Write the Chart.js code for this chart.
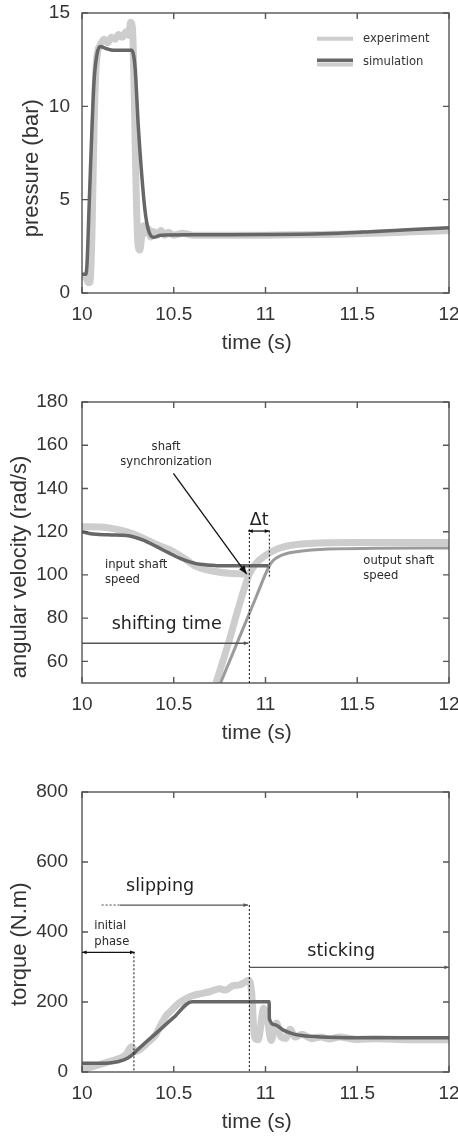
<!DOCTYPE html>
<html>
<head>
<meta charset="utf-8">
<title>gear shift: pressure, speed, torque</title>
<script src="https://cdn.jsdelivr.net/npm/chart.js@4.4.1/dist/chart.umd.min.js"></script>
<style>
  body{margin:0;background:#fff;}
  .box{position:absolute;left:0;width:458px;}
</style>
</head>
<body>
<div class="box" style="top:0;height:370px"><canvas id="pressureChart" width="458" height="370"></canvas></div>
<div class="box" style="top:370px;height:390px"><canvas id="speedChart" width="458" height="390"></canvas></div>
<div class="box" style="top:760px;height:377px"><canvas id="torqueChart" width="458" height="377"></canvas></div>
<script>
// --- pressure (bar) vs time (s)
const presSimT = [10.00,10.02,10.027,10.04,10.055,10.066,10.08,10.098,10.13,10.17,10.27,10.289,10.307,10.325,10.343,10.361,10.39,10.43,10.6,10.8,11.0,11.2,11.4,11.6,11.8,12.0];
const presSimV = [1.0,1.0,1.5,5.0,9.0,11.4,12.7,13.2,13.1,13.0,13.0,12.1,8.9,6.4,4.45,3.4,2.98,3.1,3.12,3.12,3.13,3.15,3.2,3.3,3.4,3.5];
const presExpT = [10.00,10.02,10.035,10.045,10.055,10.065,10.075,10.085,10.10,10.12,10.14,10.16,10.18,10.20,10.22,10.24,10.255,10.265,10.275,10.285,10.295,10.305,10.315,10.325,10.335,10.345,10.36,10.375,10.39,10.41,10.43,10.45,10.47,10.50,10.55,10.6,10.8,11.0,11.2,11.4,11.6,11.8,12.0];
const presExpV = [0.9,0.85,0.55,0.6,3.5,8.5,11.8,12.9,13.3,13.6,13.4,13.7,13.6,13.85,13.7,14.0,13.8,14.5,14.2,10.5,5.5,2.6,2.3,3.0,3.6,3.2,3.45,3.0,3.3,3.1,3.35,3.1,3.25,3.1,3.2,3.1,3.1,3.1,3.12,3.15,3.2,3.28,3.35];

// --- angular velocity (rad/s) vs time (s)
const inExpT  = [10.0,10.1,10.19,10.25,10.316,10.4,10.498,10.56,10.625,10.68,10.734,10.8,10.897,10.92];
const inExpV  = [122.3,122.2,121.1,119.8,117.7,114.3,110.8,107.5,103.8,102.4,101.5,100.8,100.4,100.2];
const inSimT  = [10.0,10.04,10.08,10.16,10.243,10.33,10.407,10.47,10.534,10.6,10.643,10.7,10.734,10.85,11.016];
const inSimV  = [120.0,119.2,118.8,118.5,118.2,116.2,113.1,110.3,107.7,105.7,104.9,104.5,104.3,104.3,104.3];
const outExpT = [10.73,10.8,10.85,10.91,10.95,11.0,11.05,11.1,11.2,11.3,11.5,11.75,12.0];
const outExpV = [50,69,84,100,105.5,109,111.5,113,114.3,114.8,115,115,115];
const outSimT = [10.755,10.85,10.95,11.015,11.04,11.08,11.15,11.3,11.6,12.0];
const outSimV = [50,69.5,90,103.2,106.5,108.8,110.5,111.8,112.3,112.5];

// --- torque (N.m) vs time (s)
const tqSimT = [10.0,10.1,10.15,10.2,10.25,10.28,10.3,10.4,10.5,10.6,11.02,11.021,11.05,11.1,11.15,11.2,11.3,11.5,12.0];
const tqSimV = [25,25,26,30,40,52,62,109,156,201,201,152,135,119,109,104,100,98,98];
const tqExpT = [10.0,10.05,10.1,10.15,10.2,10.24,10.27,10.29,10.32,10.36,10.4,10.43,10.46,10.48,10.5,10.53,10.56,10.6,10.65,10.7,10.75,10.78,10.82,10.86,10.88,10.91,10.925,10.94,10.96,10.99,11.01,11.03,11.06,11.085,11.11,11.135,11.16,11.2,11.25,11.3,11.35,11.4,11.5,11.6,11.8,12.0];
const tqExpV = [8,14,22,30,38,50,72,58,66,85,105,135,162,172,183,198,208,218,224,230,238,234,246,249,254,262,225,100,92,182,150,90,140,100,96,122,100,108,95,100,94,100,93,95,92,92];

const timeTicks = [10, 10.5, 11, 11.5, 12];

const SANS = "'Liberation Sans', Arial, sans-serif";
const NOTE = "'DejaVu Sans', sans-serif";
const INK = '#333';
const FRAME = '#555';
const EXP = '#cdcdcd', SIM = '#676767', SIM2 = '#9b9b9b';

const pts = (xs, ys) => xs.map((x, i) => ({x, y: ys[i]}));

function line(label, xs, ys, color, width, order){
  return {label, data: pts(xs, ys), borderColor: color, borderWidth: width, order,
    pointRadius: 0, cubicInterpolationMode: 'monotone', fill: false, clip: 0,
    borderJoinStyle: 'round', borderCapStyle: 'butt'};
}

// box round the plot, ticks pointing inwards (gnuplot style)
const frame = {
  id: 'frame',
  afterDatasetsDraw(chart){
    const {ctx, chartArea: a, scales: {x, y}} = chart;
    ctx.save();
    ctx.strokeStyle = FRAME; ctx.lineWidth = 1.4;
    ctx.beginPath();
    x.ticks.forEach(t => {
      const px = x.getPixelForValue(t.value);
      ctx.moveTo(px, a.bottom); ctx.lineTo(px, a.bottom - 6);
      ctx.moveTo(px, a.top); ctx.lineTo(px, a.top + 6);
    });
    y.ticks.forEach(t => {
      const py = y.getPixelForValue(t.value);
      ctx.moveTo(a.left, py); ctx.lineTo(a.left + 6, py);
      ctx.moveTo(a.right, py); ctx.lineTo(a.right - 6, py);
    });
    ctx.stroke();
    ctx.strokeRect(a.left, a.top, a.right - a.left, a.bottom - a.top);
    ctx.restore();
  }
};

function head(ctx, x1, y1, x2, y2, size){
  const ang = Math.atan2(y2 - y1, x2 - x1);
  ctx.beginPath();
  ctx.moveTo(x2, y2);
  ctx.lineTo(x2 - size * Math.cos(ang - 0.38), y2 - size * Math.sin(ang - 0.38));
  ctx.lineTo(x2 - size * Math.cos(ang + 0.38), y2 - size * Math.sin(ang + 0.38));
  ctx.closePath(); ctx.fill();
}

// arrows, dashed markers and labels, placed in data units
function makeNotes(cfg){
  return {
    id: 'notes',
    afterDraw(chart){
      const {ctx, scales: {x, y}} = chart;
      const P = p => [x.getPixelForValue(p[0]), y.getPixelForValue(p[1])];
      ctx.save();
      (cfg.lines || []).forEach(l => {
        const [x1, y1] = P(l.from), [x2, y2] = P(l.to);
        ctx.strokeStyle = l.color; ctx.fillStyle = l.color; ctx.lineWidth = l.width;
        ctx.setLineDash(l.dash || []);
        ctx.beginPath(); ctx.moveTo(x1, y1); ctx.lineTo(x2, y2); ctx.stroke();
        ctx.setLineDash([]);
        if (l.head === 'end' || l.head === 'both') head(ctx, x1, y1, x2, y2, l.size);
        if (l.head === 'both') head(ctx, x2, y2, x1, y1, l.size);
      });
      (cfg.texts || []).forEach(t => {
        const [px, py] = P(t.at);
        ctx.font = t.size + 'px ' + NOTE;
        ctx.fillStyle = t.color || '#2a2a2a';
        ctx.textAlign = t.align || 'left'; ctx.textBaseline = 'middle';
        ctx.fillText(t.text, px, py);
      });
      ctx.restore();
    }
  };
}

// legend inside the top right corner of the pressure plot
const legendBox = {
  id: 'legendBox',
  afterDraw(chart){
    const {ctx, chartArea: a} = chart;
    const ds = chart.data.datasets;
    const x0 = a.right - 132, x1 = a.right - 96, tx = a.right - 86;
    ctx.save();
    const seg = (yy, c, w) => { ctx.strokeStyle = c; ctx.lineWidth = w; ctx.beginPath(); ctx.moveTo(x0, yy); ctx.lineTo(x1, yy); ctx.stroke(); };
    seg(a.top + 25.7, EXP, 4);
    seg(a.top + 51.5, EXP, 4);
    seg(a.top + 47.2, SIM, 3.4);
    ctx.font = '11.6px ' + NOTE; ctx.fillStyle = INK; ctx.textBaseline = 'middle'; ctx.textAlign = 'left';
    ctx.fillText(ds[1].label, tx, a.top + 25.5);
    ctx.fillText(ds[0].label, tx, a.top + 48.5);
    ctx.restore();
  }
};

function options(o){
  return {
    responsive: false, animation: false,
    layout: {padding: {left: 0, right: 9, top: o.top, bottom: 0}},
    plugins: {legend: {display: false}, tooltip: {enabled: false}},
    scales: {
      x: {
        type: 'linear', min: 10, max: 12,
        grid: {display: false, drawTicks: false}, border: {display: false},
        afterBuildTicks: s => { s.ticks = timeTicks.map(v => ({value: v})); },
        ticks: {padding: 10, color: INK, font: {family: SANS, size: 19}, maxRotation: 0, autoSkip: false, callback: v => String(v)},
        title: {display: true, text: 'time (s)   ', color: INK, font: {family: SANS, size: 21}, padding: {top: 0, bottom: o.xTitlePad}},
        afterFit: s => { s.height = o.xH; s.paddingLeft = 0; s.paddingRight = 0; }
      },
      y: {
        min: o.yMin, max: o.yMax,
        grid: {display: false, drawTicks: false}, border: {display: false},
        afterBuildTicks: s => { s.ticks = o.yTicks.map(v => ({value: v})); },
        ticks: {padding: o.yTickPad, color: INK, font: {family: SANS, size: 19}},
        title: {display: true, text: o.yTitle, color: INK, font: {family: SANS, size: 22}, padding: {top: o.yTitlePad, bottom: 0}},
        afterFit: s => { s.width = 82; s.paddingTop = 0; s.paddingBottom = 0; }
      }
    }
  };
}

new Chart(document.getElementById('pressureChart'), {
  type: 'line',
  data: {datasets: [
    line('simulation', presSimT, presSimV, SIM, 3.5, 0),
    line('experiment', presExpT, presExpV, EXP, 7, 1)
  ]},
  options: options({top: 13, xH: 77, xTitlePad: 14, yMin: 0, yMax: 15, yTicks: [0, 5, 10, 15], yTickPad: 12,
    yTitle: 'pressure (bar)     ', yTitlePad: 19}),
  plugins: [frame, legendBox]
});

const speedNotes = {
  lines: [
    {from: [10.498, 147.0], to: [10.8975, 100.4], color: '#111', width: 1.3, head: 'end', size: 9},
    {from: [10.912, 50], to: [10.912, 121.1], color: '#111', width: 1, dash: [2, 2]},
    {from: [11.021, 99.2], to: [11.021, 121.1], color: '#111', width: 1, dash: [2, 2]},
    {from: [10.906, 120.3], to: [11.021, 120.3], color: '#111', width: 1.3, head: 'both', size: 5},
    {from: [10, 68.4], to: [10.907, 68.4], color: '#555', width: 1.3, head: 'end', size: 5}
  ],
  texts: [
    {at: [10.458, 159.2], text: 'shaft', size: 11.6, align: 'center'},
    {at: [10.458, 152.2], text: 'synchronization', size: 11.6, align: 'center'},
    {at: [10.125, 104.6], text: 'input shaft', size: 11.6},
    {at: [10.125, 97.65], text: 'speed', size: 11.6},
    {at: [11.533, 106.6], text: 'output shaft', size: 11.6},
    {at: [11.533, 99.6], text: 'speed', size: 11.6},
    {at: [10.162, 77.3], text: 'shifting time', size: 17.5, color: '#222'},
    {at: [10.966, 125.1], text: 'Δt', size: 17.5, align: 'center', color: '#222'}
  ]
};

new Chart(document.getElementById('speedChart'), {
  type: 'line',
  data: {datasets: [
    line('input simulation', inSimT, inSimV, SIM, 3.5, 0),
    line('output simulation', outSimT, outSimV, SIM2, 3, 1),
    line('input experiment', inExpT, inExpV, EXP, 7, 2),
    line('output experiment', outExpT, outExpV, EXP, 7, 3)
  ]},
  options: options({top: 32, xH: 77, xTitlePad: 14, yMin: 50, yMax: 180, yTicks: [60, 80, 100, 120, 140, 160, 180], yTickPad: 14,
    yTitle: 'angular velocity (rad/s)        ', yTitlePad: 7}),
  plugins: [frame, makeNotes(speedNotes)]
});

const torqueNotes = {
  lines: [
    {from: [10.107, 477], to: [10.207, 477], color: '#666', width: 1.2, dash: [2, 2]},
    {from: [10.207, 477], to: [10.905, 477], color: '#555', width: 1.3, head: 'end', size: 5},
    {from: [10.912, 477], to: [10.912, 0], color: '#111', width: 1, dash: [2, 2]},
    {from: [10, 342], to: [10.287, 342], color: '#111', width: 1.3, head: 'both', size: 5},
    {from: [10.283, 342], to: [10.283, 0], color: '#111', width: 1, dash: [2, 2]},
    {from: [10.912, 299], to: [12, 299], color: '#555', width: 1.3, head: 'end', size: 5}
  ],
  texts: [
    {at: [10.24, 529.5], text: 'slipping', size: 17.5, color: '#222'},
    {at: [10.067, 418], text: 'initial', size: 11.6},
    {at: [10.067, 372.4], text: 'phase', size: 11.6},
    {at: [11.228, 345.7], text: 'sticking', size: 17.5, color: '#222'}
  ]
};

new Chart(document.getElementById('torqueChart'), {
  type: 'line',
  data: {datasets: [
    line('simulation', tqSimT, tqSimV, SIM, 3.5, 0),
    line('experiment', tqExpT, tqExpV, EXP, 7, 1)
  ]},
  options: options({top: 32, xH: 65, xTitlePad: 2, yMin: 0, yMax: 800, yTicks: [0, 200, 400, 600, 800], yTickPad: 14,
    yTitle: 'torque (N.m)    ', yTitlePad: 7}),
  plugins: [frame, makeNotes(torqueNotes)]
});
</script>
</body>
</html>
